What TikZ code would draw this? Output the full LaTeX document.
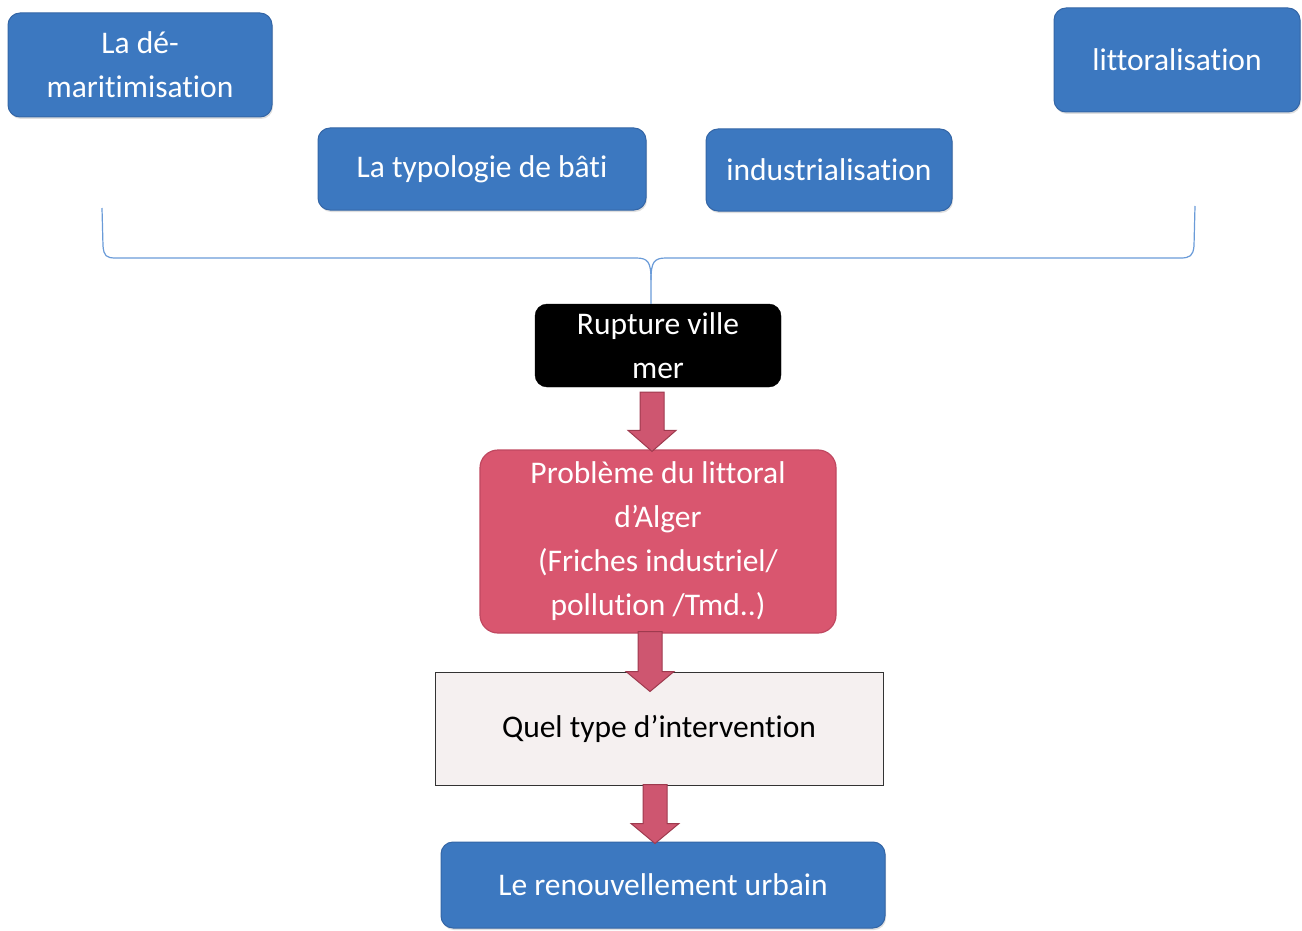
\documentclass[tikz,border=0pt]{standalone}
\usepackage{fontspec}
\setmainfont[Ligatures={NoCommon}]{Carlito}
\usetikzlibrary{calc,shadows}
\definecolor{boxblue}{HTML}{3C78C0}
\definecolor{boxblueedge}{HTML}{3466A6}
\definecolor{probred}{HTML}{D9566F}
\definecolor{probrededge}{HTML}{C04860}
\definecolor{arrowfill}{HTML}{CE5670}
\definecolor{arrowedge}{HTML}{9E3A4E}
\definecolor{questfill}{HTML}{F5F0F0}
\definecolor{bracecol}{HTML}{6A9BD8}
\tikzset{
  txt/.style={font=\fontsize{31.5}{44}\selectfont, align=center, inner sep=0pt},
  bluebox/.style={txt, rectangle, rounded corners=12pt, fill=boxblue, draw=boxblueedge,
    line width=1pt, text=white, drop shadow={shadow xshift=1pt, shadow yshift=-2pt, opacity=0.25}},
  blackbox/.style={txt, rectangle, rounded corners=12pt, fill=black, draw=black, text=white},
  redbox/.style={txt, rectangle, rounded corners=18pt, fill=probred, draw=probrededge,
    line width=1.2pt, text=white},
  questbox/.style={txt, rectangle, fill=questfill, draw=black!80, line width=1pt, text=black},
  blockarrow/.style={fill=arrowfill, draw=arrowedge, line width=1pt, line join=miter},
  bracestyle/.style={draw=bracecol, line width=1.2pt}
}
\begin{document}
\begin{tikzpicture}[x=1pt,y=-1pt]
\useasboundingbox (0,0) rectangle (1302,931);

% top-level causes
\node[bluebox, minimum width=264pt, minimum height=104pt] (demar) at (140,65) {La dé-\\maritimisation};
\node[bluebox, minimum width=328pt, minimum height=82pt] (typo) at (482,169) {La typologie de bâti};
\node[bluebox, minimum width=246pt, minimum height=82pt] (indus) at (829,170) {industrialisation};
\node[bluebox, minimum width=246pt, minimum height=104pt] (litto) at (1177,60) {littoralisation};

% central chain
\node[blackbox, minimum width=246pt, minimum height=83pt] (rupt) at (658,345.5) {Rupture ville\\mer};
\node[redbox, minimum width=356pt, minimum height=183pt] (prob) at (658,541.5)
  {Problème du littoral\\d’Alger\\(Friches industriel/\\pollution /Tmd..)};
\node[questbox, minimum width=448pt, minimum height=113pt] (quest) at (659,728.5) {Quel type d’intervention};
\node[bluebox, minimum width=444pt, minimum height=86pt] (renouv) at (663,885) {Le renouvellement urbain};

% brace gathering the causes
\coordinate (bl) at (102,208);
\coordinate (br) at (1195,206);
\draw[bracestyle] (bl) -- (103,246) .. controls (104,256) and (106,258) .. (116,258)
  -- (636,258) .. controls (648,258) and (651,262) .. (651,280) -- (rupt.north -| 651,0);
\draw[bracestyle] (br) -- (1194,246) .. controls (1193,256) and (1190,258) .. (1180,258)
  -- (666,258) .. controls (654,258) and (651,262) .. (651,280);

% block arrows between the stages
\draw[blockarrow] ($(rupt.south)+(-18,5)$) -- ($(rupt.south)+(6,5)$)
  -- ($(prob.north)+(6,-19)$) -- ($(prob.north)+(18,-19)$)
  -- ($(prob.north)+(-6,2)$) -- ($(prob.north)+(-30,-19)$)
  -- ($(prob.north)+(-18,-19)$) -- cycle;
\draw[blockarrow] ($(prob.south)+(-20,-2)$) -- ($(prob.south)+(4,-2)$)
  -- ($(quest.north)+(3,0)$) -- ($(quest.north)+(15,0)$)
  -- ($(quest.north)+(-9,20)$) -- ($(quest.north)+(-33,0)$)
  -- ($(quest.north)+(-21,0)$) -- cycle;
\draw[blockarrow] ($(quest.south)+(-16,-1)$) -- ($(quest.south)+(8,-1)$)
  -- ($(renouv.north)+(4,-18)$) -- ($(renouv.north)+(16,-18)$)
  -- ($(renouv.north)+(-8,2)$) -- ($(renouv.north)+(-32,-18)$)
  -- ($(renouv.north)+(-20,-18)$) -- cycle;
\end{tikzpicture}
\end{document}
